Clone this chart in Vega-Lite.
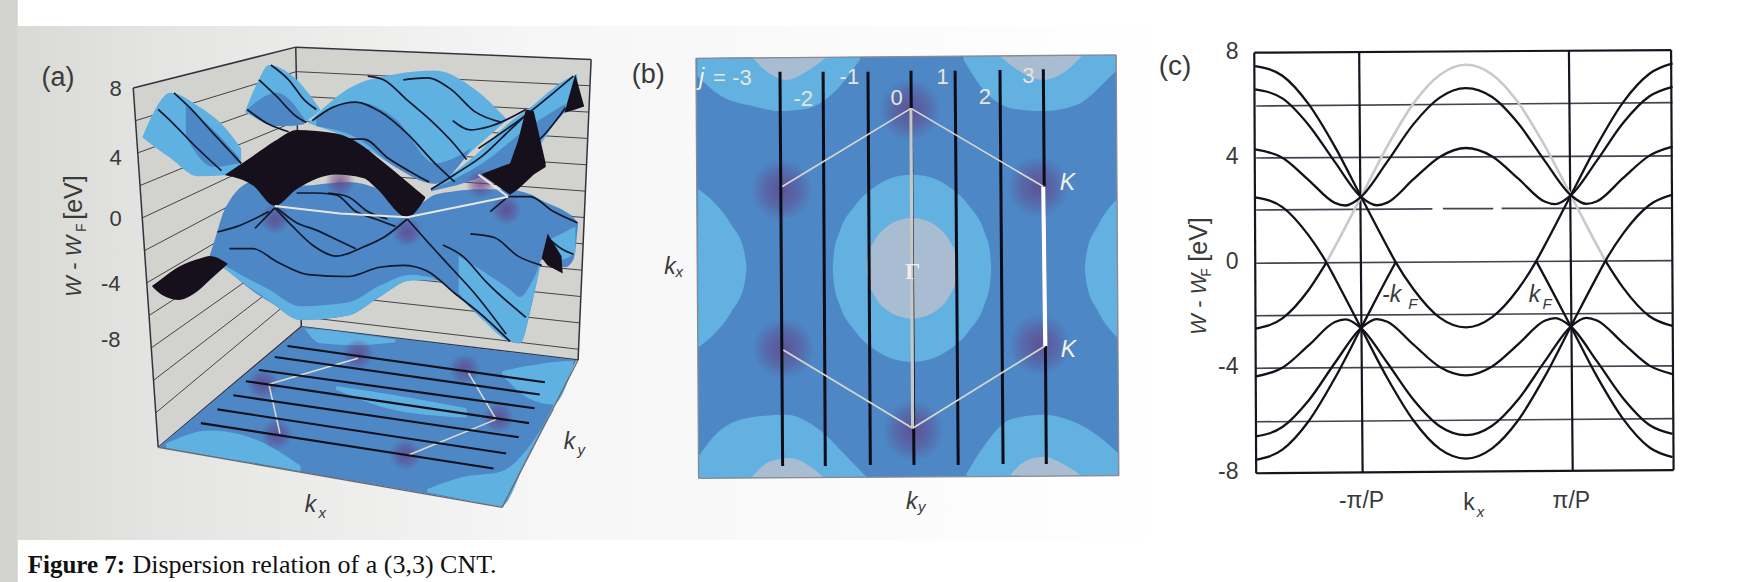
{
"$schema":"https://vega.github.io/schema/vega-lite/v6.json",
"width":1738,"height":582,"padding":0,"autosize":{"type":"none"},"background":"#ffffff",
"config":{"view":{"stroke":null}},
"resolve":{"scale":{"x":"independent","y":"independent"}},
"layer":[
{"encoding":{"x":{"field":"u","type":"quantitative","scale":{"domain":[0,4395.5],"nice":false,"zero":false},"axis":null},
 "y":{"field":"v","type":"quantitative","scale":{"domain":[1568,0],"nice":false,"zero":false},"axis":null}},
"layer":[
{"data":{"values":[{"u":0,"u2":45,"v":0,"v2":1568}]},"mark":{"type":"rect","color":"#d3d3cf"},"encoding":{"x2":{"field":"u2"},"y2":{"field":"v2"}}},
{"data":{"values":[{"u":45,"u2":2950,"v":70,"v2":1455}]},"mark":{"type":"rect","color":{"gradient":"linear","x1":0,"x2":1,"y1":0,"y2":0,"stops":[{"offset":0,"color":"#d9d9d6"},{"offset":0.12,"color":"#e4e4e2"},{"offset":0.45,"color":"#f6f6f6"},{"offset":1,"color":"#ffffff"}]}},"encoding":{"x2":{"field":"u2"},"y2":{"field":"v2"}}},
{"data":{"values":[{"u":337,"t":237,"b":237},{"u":400,"t":220,"b":1200},{"u":748,"t":127,"b":892},{"u":762,"t":128,"b":880},{"u":1462,"t":158,"b":970},{"u":1495,"t":160,"b":160}]},"mark":{"type":"area","color":"#d2d2ce"},"encoding":{"y":{"field":"t"},"y2":{"field":"b"}}},
{"data":{"values":[
{"id":"l1","u":343,"v":325},{"id":"l1","u":749,"v":193},{"id":"l2","u":348,"v":412},{"id":"l2","u":750,"v":259},{"id":"l3","u":354,"v":500},{"id":"l3","u":752,"v":325},{"id":"l4","u":360,"v":587},{"id":"l4","u":753,"v":391},{"id":"l5","u":366,"v":675},{"id":"l5","u":754,"v":457},{"id":"l6","u":371,"v":762},{"id":"l6","u":755,"v":523},{"id":"l7","u":377,"v":850},{"id":"l7","u":756,"v":589},{"id":"l8","u":383,"v":937},{"id":"l8","u":758,"v":655},{"id":"l9","u":388,"v":1025},{"id":"l9","u":759,"v":721},{"id":"l10","u":394,"v":1112},{"id":"l10","u":760,"v":787},
{"id":"r1","u":749,"v":193},{"id":"r1","u":1492,"v":231},{"id":"r2","u":750,"v":259},{"id":"r2","u":1489,"v":302},{"id":"r3","u":752,"v":325},{"id":"r3","u":1486,"v":373},{"id":"r4","u":753,"v":391},{"id":"r4","u":1483,"v":444},{"id":"r5","u":754,"v":457},{"id":"r5","u":1480,"v":515},{"id":"r6","u":755,"v":523},{"id":"r6","u":1478,"v":586},{"id":"r7","u":756,"v":589},{"id":"r7","u":1475,"v":657},{"id":"r8","u":758,"v":655},{"id":"r8","u":1472,"v":728},{"id":"r9","u":759,"v":721},{"id":"r9","u":1469,"v":799},{"id":"r10","u":760,"v":787},{"id":"r10","u":1466,"v":870},{"id":"r11","u":761,"v":853},{"id":"r11","u":1463,"v":941}
]},"mark":{"type":"line","color":"#444444","strokeWidth":1},"encoding":{"detail":{"field":"id"}}},
{"data":{"values":[
{"id":"a","u":337,"v":237},{"id":"a","u":748,"v":127},{"id":"b","u":748,"v":127},{"id":"b","u":1495,"v":160},{"id":"c","u":1462,"v":970},{"id":"c","u":1495,"v":160},{"id":"d","u":337,"v":237},{"id":"d","u":400,"v":1205},{"id":"e","u":400,"v":1205},{"id":"e","u":762,"v":880},{"id":"f","u":762,"v":880},{"id":"f","u":1462,"v":970},{"id":"g","u":748,"v":127},{"id":"g","u":762,"v":880}
]},"mark":{"type":"line","color":"#333340","strokeWidth":1.5},"encoding":{"detail":{"field":"id"}}},
{"data":{"values":[{"u":400,"t":1205,"b":1205},{"u":765,"t":880,"b":1272},{"u":1270,"t":946,"b":1365},{"u":1458,"t":970,"b":972}]},"mark":{"type":"area","color":"#4d87c5"},"encoding":{"y":{"field":"t"},"y2":{"field":"b"}}},
{"data":{"values":[
{"id":"f1","u":420,"t":1195,"b":1208},{"id":"f1","u":530,"t":1160,"b":1228},{"id":"f1","u":660,"t":1190,"b":1250},{"id":"f1","u":760,"t":1255,"b":1270},
{"id":"f2","u":770,"t":885,"b":885},{"id":"f2","u":810,"t":888,"b":925},{"id":"f2","u":900,"t":900,"b":930},{"id":"f2","u":1000,"t":915,"b":922},
{"id":"f3","u":1270,"t":1000,"b":1010},{"id":"f3","u":1340,"t":985,"b":1075},{"id":"f3","u":1400,"t":975,"b":1090},{"id":"f3","u":1450,"t":972,"b":985},
{"id":"f4","u":1080,"t":1318,"b":1326},{"id":"f4","u":1170,"t":1285,"b":1345},{"id":"f4","u":1268,"t":1270,"b":1363},{"id":"f4","u":1340,"t":1200,"b":1215},{"id":"f4","u":1400,"t":1100,"b":1105},
{"id":"f5","u":850,"t":1040,"b":1050},{"id":"f5","u":1000,"t":1065,"b":1105},{"id":"f5","u":1180,"t":1100,"b":1125}
]},"mark":{"type":"area","color":"#5fb1e1","interpolate":"monotone"},"encoding":{"detail":{"field":"id"},"y":{"field":"t"},"y2":{"field":"b"}}},
{"data":{"values":[{"u":905,"v":955},{"u":1175,"v":995},{"u":1260,"v":1125},{"u":1025,"v":1225},{"u":700,"v":1170},{"u":665,"v":1035}]},"mark":{"type":"circle","size":1000,"fill":{"gradient":"radial","stops":[{"offset":0,"color":"rgba(100,60,130,0.7)"},{"offset":0.55,"color":"rgba(100,60,130,0.4)"},{"offset":1,"color":"rgba(100,60,130,0)"}]},"opacity":1}},
{"data":{"values":[
{"id":"h1","u":680,"v":1035},{"id":"h1","u":905,"v":965},{"id":"h2","u":680,"v":1035},{"id":"h2","u":708,"v":1168},{"id":"h3","u":1185,"v":1005},{"id":"h3","u":1255,"v":1130},{"id":"h4","u":1035,"v":1225},{"id":"h4","u":1255,"v":1130}
]},"mark":{"type":"line","color":"#dcdcd4","strokeWidth":1.5},"encoding":{"detail":{"field":"id"}}},
{"data":{"values":[
{"id":"1","u":727,"v":932},{"id":"1","u":1378,"v":1030},{"id":"2","u":695,"v":962},{"id":"2","u":1365,"v":1063},{"id":"3","u":655,"v":997},{"id":"3","u":1352,"v":1100},{"id":"4","u":622,"v":1027},{"id":"4","u":1338,"v":1140},{"id":"5","u":590,"v":1065},{"id":"5","u":1312,"v":1178},{"id":"6","u":550,"v":1103},{"id":"6","u":1280,"v":1222},{"id":"7","u":508,"v":1140},{"id":"7","u":1248,"v":1262}
]},"mark":{"type":"line","color":"#10101c","strokeWidth":2.1},"encoding":{"detail":{"field":"id"}}},
{"data":{"values":[{"id":"a","u":400,"v":1205},{"id":"a","u":1270,"v":1367},{"id":"b","u":1270,"v":1367},{"id":"b","u":1462,"v":970}]},"mark":{"type":"line","color":"#6a6a70","strokeWidth":1.4},"encoding":{"detail":{"field":"id"}}},
{"data":{"values":[
{"id":"u1","u":360,"t":370,"b":370},{"id":"u1","u":390,"t":300,"b":395},{"id":"u1","u":430,"t":250,"b":425},{"id":"u1","u":500,"t":285,"b":475},{"id":"u1","u":570,"t":345,"b":472},{"id":"u1","u":610,"t":400,"b":440},
{"id":"u2","u":620,"t":300,"b":302},{"id":"u2","u":650,"t":225,"b":320},{"id":"u2","u":680,"t":175,"b":335},{"id":"u2","u":740,"t":205,"b":340},{"id":"u2","u":810,"t":295,"b":298},
{"id":"u3","u":780,"t":330,"b":332},{"id":"u3","u":830,"t":280,"b":350},{"id":"u3","u":880,"t":240,"b":370},{"id":"u3","u":1000,"t":200,"b":450},{"id":"u3","u":1100,"t":190,"b":495},{"id":"u3","u":1200,"t":240,"b":400},{"id":"u3","u":1280,"t":320,"b":325},
{"id":"u4","u":1090,"t":510,"b":515},{"id":"u4","u":1200,"t":420,"b":480},{"id":"u4","u":1300,"t":320,"b":470},{"id":"u4","u":1340,"t":290,"b":430},{"id":"u4","u":1430,"t":215,"b":300},{"id":"u4","u":1460,"t":200,"b":285}
]},"mark":{"type":"area","color":"#5fb1e1","interpolate":"monotone"},"encoding":{"detail":{"field":"id"},"y":{"field":"t"},"y2":{"field":"b"}}},
{"data":{"values":[
{"id":"d1","u":470,"t":285,"b":370},{"id":"d1","u":540,"t":350,"b":450},{"id":"d1","u":605,"t":425,"b":440},
{"id":"d2","u":625,"t":295,"b":300},{"id":"d2","u":700,"t":250,"b":340},{"id":"d2","u":770,"t":320,"b":335},
{"id":"d3","u":800,"t":320,"b":340},{"id":"d3","u":900,"t":275,"b":370},{"id":"d3","u":1000,"t":320,"b":450},{"id":"d3","u":1100,"t":440,"b":495},{"id":"d3","u":1190,"t":400,"b":402},
{"id":"d4","u":1090,"t":512,"b":515},{"id":"d4","u":1220,"t":440,"b":475},{"id":"d4","u":1340,"t":340,"b":400},{"id":"d4","u":1430,"t":280,"b":300},
{"id":"L","u":530,"t":690,"b":690},{"id":"L","u":545,"t":640,"b":705},{"id":"L","u":570,"t":560,"b":725},{"id":"L","u":640,"t":490,"b":785},{"id":"L","u":700,"t":495,"b":825},{"id":"L","u":760,"t":500,"b":862},{"id":"L","u":880,"t":490,"b":850},{"id":"L","u":960,"t":510,"b":800},{"id":"L","u":1040,"t":560,"b":755},{"id":"L","u":1100,"t":525,"b":755},{"id":"L","u":1150,"t":515,"b":790},{"id":"L","u":1220,"t":510,"b":860},{"id":"L","u":1290,"t":510,"b":920},{"id":"L","u":1315,"t":515,"b":925},{"id":"L","u":1345,"t":525,"b":820},{"id":"L","u":1370,"t":540,"b":700},{"id":"L","u":1430,"t":570,"b":720},{"id":"L","u":1450,"t":585,"b":700},{"id":"L","u":1462,"t":600,"b":602}
]},"mark":{"type":"area","color":"#4d87c5","interpolate":"monotone"},"encoding":{"detail":{"field":"id"},"y":{"field":"t"},"y2":{"field":"b"}}},
{"data":{"values":[
{"id":"l1","u":530,"t":690,"b":690},{"id":"l1","u":600,"t":735,"b":750},{"id":"l1","u":680,"t":780,"b":810},{"id":"l1","u":760,"t":825,"b":862},{"id":"l1","u":880,"t":815,"b":850},{"id":"l1","u":960,"t":770,"b":800},{"id":"l1","u":1040,"t":740,"b":755},{"id":"l1","u":1100,"t":750,"b":755},
{"id":"l2","u":1160,"t":690,"b":790},{"id":"l2","u":1220,"t":730,"b":860},{"id":"l2","u":1290,"t":780,"b":920},{"id":"l2","u":1315,"t":800,"b":925},{"id":"l2","u":1345,"t":760,"b":820},{"id":"l2","u":1370,"t":700,"b":700},
{"id":"l3","u":1380,"t":650,"b":655},{"id":"l3","u":1420,"t":630,"b":700},{"id":"l3","u":1455,"t":610,"b":680}
]},"mark":{"type":"area","color":"#5fb1e1","interpolate":"monotone"},"encoding":{"detail":{"field":"id"},"y":{"field":"t"},"y2":{"field":"b"}}},
{"data":{"values":[{"u":695,"v":590},{"u":1030,"v":625},{"u":1280,"v":565},{"u":1215,"v":495},{"u":860,"v":490}]},"mark":{"type":"circle","size":900,"fill":{"gradient":"radial","stops":[{"offset":0,"color":"rgba(100,60,130,0.7)"},{"offset":0.55,"color":"rgba(100,60,130,0.4)"},{"offset":1,"color":"rgba(100,60,130,0)"}]},"opacity":1}},
{"data":{"values":[
{"id":"a","u":440,"v":250},{"id":"a","u":480,"v":290},{"id":"a","u":540,"v":360},{"id":"a","u":610,"v":440},
{"id":"b","u":400,"v":295},{"id":"b","u":440,"v":335},{"id":"b","u":490,"v":390},{"id":"b","u":560,"v":460},
{"id":"c","u":685,"v":175},{"id":"c","u":730,"v":215},{"id":"c","u":770,"v":270},{"id":"c","u":800,"v":295},
{"id":"d","u":655,"v":215},{"id":"d","u":700,"v":260},{"id":"d","u":745,"v":310},{"id":"d","u":775,"v":330},
{"id":"e","u":625,"v":295},{"id":"e","u":680,"v":335},{"id":"e","u":730,"v":355},
{"id":"f","u":790,"v":325},{"id":"f","u":840,"v":290},{"id":"f","u":900,"v":275},{"id":"f","u":960,"v":300},{"id":"f","u":1030,"v":360},{"id":"f","u":1100,"v":440},{"id":"f","u":1150,"v":490},
{"id":"g","u":930,"v":205},{"id":"g","u":970,"v":215},{"id":"g","u":1030,"v":270},{"id":"g","u":1090,"v":325},{"id":"g","u":1150,"v":390},{"id":"g","u":1180,"v":430},
{"id":"h","u":1020,"v":215},{"id":"h","u":1080,"v":210},{"id":"h","u":1140,"v":240},{"id":"h","u":1200,"v":300},{"id":"h","u":1270,"v":330},
{"id":"i","u":875,"v":375},{"id":"i","u":920,"v":375},{"id":"i","u":980,"v":425},{"id":"i","u":1050,"v":470},{"id":"i","u":1085,"v":490},
{"id":"j","u":1145,"v":325},{"id":"j","u":1190,"v":350},{"id":"j","u":1240,"v":340},{"id":"j","u":1330,"v":295},
{"id":"k","u":1090,"v":510},{"id":"k","u":1150,"v":470},{"id":"k","u":1220,"v":420},{"id":"k","u":1290,"v":350},{"id":"k","u":1340,"v":300},
{"id":"m","u":1300,"v":420},{"id":"m","u":1370,"v":370},{"id":"m","u":1430,"v":290},
{"id":"n","u":1210,"v":400},{"id":"n","u":1330,"v":310},{"id":"n","u":1450,"v":205},
{"id":"o","u":550,"v":625},{"id":"o","u":600,"v":610},{"id":"o","u":680,"v":570},
{"id":"p","u":645,"v":615},{"id":"p","u":695,"v":560},
{"id":"q","u":695,"v":560},{"id":"q","u":740,"v":610},{"id":"q","u":790,"v":660},{"id":"q","u":850,"v":690},{"id":"q","u":920,"v":665},{"id":"q","u":970,"v":640},{"id":"q","u":1030,"v":590},
{"id":"r","u":700,"v":560},{"id":"r","u":750,"v":600},{"id":"r","u":800,"v":620},{"id":"r","u":860,"v":650},{"id":"r","u":900,"v":670},
{"id":"s","u":750,"v":520},{"id":"s","u":800,"v":520},{"id":"s","u":850,"v":525},{"id":"s","u":900,"v":570},{"id":"s","u":950,"v":590},{"id":"s","u":1000,"v":610},
{"id":"t","u":830,"v":520},{"id":"t","u":880,"v":530},{"id":"t","u":930,"v":570},{"id":"t","u":980,"v":590},
{"id":"uu","u":580,"v":670},{"id":"uu","u":640,"v":670},{"id":"uu","u":700,"v":705},{"id":"uu","u":780,"v":740},{"id":"uu","u":880,"v":745},{"id":"uu","u":960,"v":720},{"id":"uu","u":1020,"v":715},{"id":"uu","u":1080,"v":730},{"id":"uu","u":1150,"v":790},{"id":"uu","u":1220,"v":850},{"id":"uu","u":1290,"v":920},
{"id":"vv","u":1030,"v":590},{"id":"vv","u":1080,"v":650},{"id":"vv","u":1140,"v":720},{"id":"vv","u":1200,"v":790},{"id":"vv","u":1280,"v":900},
{"id":"w","u":1120,"v":660},{"id":"w","u":1170,"v":690},{"id":"w","u":1230,"v":760},{"id":"w","u":1330,"v":855},
{"id":"x","u":1190,"v":630},{"id":"x","u":1250,"v":640},{"id":"x","u":1310,"v":690},{"id":"x","u":1370,"v":715},
{"id":"y","u":1285,"v":530},{"id":"y","u":1340,"v":530},{"id":"y","u":1400,"v":570},{"id":"y","u":1460,"v":600},
{"id":"z","u":1385,"v":640},{"id":"z","u":1420,"v":670},{"id":"z","u":1450,"v":685},
{"id":"aa","u":1240,"v":570},{"id":"aa","u":1285,"v":530}
]},"mark":{"type":"line","color":"#10182c","strokeWidth":1.7,"interpolate":"monotone"},"encoding":{"detail":{"field":"id"}}},
{"data":{"values":[
{"id":"arch","u":570,"t":470,"b":472},{"id":"arch","u":640,"t":420,"b":500},{"id":"arch","u":695,"t":380,"b":555},{"id":"arch","u":750,"t":350,"b":510},{"id":"arch","u":850,"t":360,"b":470},{"id":"arch","u":920,"t":395,"b":480},{"id":"arch","u":950,"t":420,"b":505},{"id":"arch","u":1030,"t":490,"b":585},{"id":"arch","u":1075,"t":530,"b":535}
]},"mark":{"type":"area","color":"#15101c","interpolate":"monotone"},"encoding":{"detail":{"field":"id"},"y":{"field":"t"},"y2":{"field":"b"}}},
{"data":{"values":[
{"id":"ll","u":385,"t":770,"b":772},{"id":"ll","u":410,"t":750,"b":795},{"id":"ll","u":450,"t":720,"b":808},{"id":"ll","u":510,"t":695,"b":775},{"id":"ll","u":530,"t":690,"b":755},{"id":"ll","u":575,"t":710,"b":712}
]},"mark":{"type":"area","color":"#15101c","interpolate":"monotone"},"encoding":{"detail":{"field":"id"},"y":{"field":"t"},"y2":{"field":"b"}}},
{"data":{"values":[
{"id":"rb","u":1220,"t":468,"b":472},{"id":"rb","u":1290,"t":440,"b":525},{"id":"rb","u":1310,"t":380,"b":510},{"id":"rb","u":1330,"t":295,"b":490},{"id":"rb","u":1350,"t":300,"b":470},{"id":"rb","u":1380,"t":440,"b":450},
{"id":"tip","u":1428,"t":302,"b":304},{"id":"tip","u":1455,"t":200,"b":295},{"id":"tip","u":1477,"t":285,"b":287},
{"id":"lr","u":1370,"t":695,"b":695},{"id":"lr","u":1385,"t":630,"b":715},{"id":"lr","u":1420,"t":690,"b":735},{"id":"lr","u":1423,"t":735,"b":737}
]},"mark":{"type":"area","color":"#15101c"},"encoding":{"detail":{"field":"id"},"y":{"field":"t"},"y2":{"field":"b"}}},
{"data":{"values":[
{"id":"w1","u":695,"v":555},{"id":"w1","u":860,"v":575},{"id":"w1","u":1030,"v":585},{"id":"w1","u":1285,"v":530},{"id":"w2","u":1210,"v":470},{"id":"w2","u":1285,"v":530}
]},"mark":{"type":"line","color":"#e8e8e0","strokeWidth":2},"encoding":{"detail":{"field":"id"}}},
{"data":{"values":[{"u":105,"v":210,"label":"(a)"}]},"mark":{"type":"text","font":"Liberation Sans","fontSize":27,"color":"#3a3a3a","align":"left","baseline":"middle"},"encoding":{"text":{"field":"label"}}},
{"data":{"values":[{"u":308,"v":240,"label":"8"},{"u":308,"v":425,"label":"4"},{"u":308,"v":590,"label":"0"},{"u":305,"v":765,"label":"-4"},{"u":305,"v":915,"label":"-8"}]},"mark":{"type":"text","font":"Liberation Sans","fontSize":22,"color":"#3a3a3a","align":"right","baseline":"middle"},"encoding":{"text":{"field":"label"}}},
{"data":{"values":[{"u":187,"v":800,"label":"W - W"}]},"mark":{"type":"text","font":"Liberation Sans","fontStyle":"italic","fontSize":22,"color":"#3a3a3a","align":"left","baseline":"middle","angle":270},"encoding":{"text":{"field":"label"}}},
{"data":{"values":[{"u":208,"v":625,"label":"F"}]},"mark":{"type":"text","font":"Liberation Sans","fontSize":14,"color":"#3a3a3a","align":"left","baseline":"middle","angle":270},"encoding":{"text":{"field":"label"}}},
{"data":{"values":[{"u":187,"v":592,"label":"[eV]"}]},"mark":{"type":"text","font":"Liberation Sans","fontSize":25,"color":"#3a3a3a","align":"left","baseline":"middle","angle":270},"encoding":{"text":{"field":"label"}}},
{"data":{"values":[{"u":785,"v":1360,"label":"k"},{"u":1440,"v":1190,"label":"k"}]},"mark":{"type":"text","font":"Liberation Sans","fontStyle":"italic","fontSize":23,"color":"#3a3a3a","baseline":"middle"},"encoding":{"text":{"field":"label"}}},
{"data":{"values":[{"u":815,"v":1382,"label":"x"},{"u":1470,"v":1212,"label":"y"}]},"mark":{"type":"text","font":"Liberation Sans","fontStyle":"italic","fontSize":15,"color":"#3a3a3a","baseline":"middle"},"encoding":{"text":{"field":"label"}}},
{"data":{"values":[{"u":70,"v":1522,"label":"Figure 7:"}]},"mark":{"type":"text","font":"Liberation Serif","fontWeight":"bold","fontSize":25,"color":"#111111","align":"left","baseline":"middle"},"encoding":{"text":{"field":"label"}}},
{"data":{"values":[{"u":335,"v":1522,"label":"Dispersion relation of a (3,3) CNT."}]},"mark":{"type":"text","font":"Liberation Serif","fontSize":26,"color":"#111111","align":"left","baseline":"middle"},"encoding":{"text":{"field":"label"}}}
]},
{"encoding":{"x":{"field":"ky","type":"quantitative","scale":{"domain":[-20.727,18.773],"nice":false,"zero":false},"axis":null},
 "y":{"field":"kx","type":"quantitative","scale":{"domain":[-2.614,2.236],"nice":false,"zero":false},"axis":null}},
"layer":[
{"data":{"values":[{"ky":-4.91,"t":1.75,"b":1.75},{"ky":-4.85,"t":1.752,"b":-1.75},{"ky":4.64,"t":1.778,"b":-1.728},{"ky":4.70,"t":-1.726,"b":-1.728}]},"mark":{"type":"area","color":"#4d87c5"},"encoding":{"y":{"field":"t"},"y2":{"field":"b"}}},
{"data":{"values":[
{"id":"c","ky":-1.8,"t":0.02,"b":-0.02},{"id":"c","ky":-1.77,"t":0.14,"b":-0.14},{"id":"c","ky":-1.65,"t":0.3,"b":-0.3},{"id":"c","ky":-1.3,"t":0.52,"b":-0.52},{"id":"c","ky":-0.8,"t":0.69,"b":-0.69},{"id":"c","ky":-0.4,"t":0.76,"b":-0.76},{"id":"c","ky":0,"t":0.78,"b":-0.78},{"id":"c","ky":0.4,"t":0.76,"b":-0.76},{"id":"c","ky":0.8,"t":0.69,"b":-0.69},{"id":"c","ky":1.3,"t":0.52,"b":-0.52},{"id":"c","ky":1.65,"t":0.3,"b":-0.3},{"id":"c","ky":1.77,"t":0.14,"b":-0.14},{"id":"c","ky":1.8,"t":0.02,"b":-0.02},
{"id":"l","ky":-4.86,"t":0.66,"b":-0.66},{"id":"l","ky":-4.5,"t":0.55,"b":-0.55},{"id":"l","ky":-4.1,"t":0.36,"b":-0.36},{"id":"l","ky":-3.82,"t":0.15,"b":-0.15},{"id":"l","ky":-3.76,"t":0.02,"b":-0.02},
{"id":"r","ky":3.93,"t":0.02,"b":-0.02},{"id":"r","ky":3.98,"t":0.15,"b":-0.15},{"id":"r","ky":4.2,"t":0.34,"b":-0.34},{"id":"r","ky":4.67,"t":0.58,"b":-0.58},
{"id":"tl","ky":-4.88,"t":1.75,"b":1.6},{"id":"tl","ky":-4.36,"t":1.755,"b":1.44},{"id":"tl","ky":-3.61,"t":1.76,"b":1.35},{"id":"tl","ky":-3.0,"t":1.76,"b":1.31},{"id":"tl","ky":-2.39,"t":1.76,"b":1.33},{"id":"tl","ky":-1.71,"t":1.76,"b":1.49},{"id":"tl","ky":-1.18,"t":1.76,"b":1.74},
{"id":"tr","ky":1.17,"t":1.77,"b":1.74},{"id":"tr","ky":1.62,"t":1.77,"b":1.49},{"id":"tr","ky":2.3,"t":1.77,"b":1.33},{"id":"tr","ky":2.98,"t":1.775,"b":1.31},{"id":"tr","ky":3.74,"t":1.775,"b":1.36},{"id":"tr","ky":4.35,"t":1.775,"b":1.54},{"id":"tr","ky":4.65,"t":1.775,"b":1.65},
{"id":"bl","ky":-4.84,"t":-1.56,"b":-1.75},{"id":"bl","ky":-4.36,"t":-1.35,"b":-1.745},{"id":"bl","ky":-3.61,"t":-1.24,"b":-1.745},{"id":"bl","ky":-2.85,"t":-1.22,"b":-1.74},{"id":"bl","ky":-2.09,"t":-1.35,"b":-1.74},{"id":"bl","ky":-1.48,"t":-1.57,"b":-1.74},{"id":"bl","ky":-1.03,"t":-1.74,"b":-1.74},
{"id":"br","ky":1.24,"t":-1.71,"b":-1.735},{"id":"br","ky":1.62,"t":-1.49,"b":-1.735},{"id":"br","ky":2.23,"t":-1.26,"b":-1.73},{"id":"br","ky":2.98,"t":-1.22,"b":-1.73},{"id":"br","ky":3.74,"t":-1.29,"b":-1.73},{"id":"br","ky":4.35,"t":-1.43,"b":-1.73},{"id":"br","ky":4.68,"t":-1.54,"b":-1.73}
]},"mark":{"type":"area","color":"#62b1e0","interpolate":"monotone"},"encoding":{"detail":{"field":"id"},"y":{"field":"t"},"y2":{"field":"b"}}},
{"data":{"values":[
{"id":"c","ky":-1.03,"t":0.02,"b":-0.02},{"id":"c","ky":-1.0,"t":0.1,"b":-0.1},{"id":"c","ky":-0.85,"t":0.23,"b":-0.23},{"id":"c","ky":-0.6,"t":0.34,"b":-0.34},{"id":"c","ky":-0.3,"t":0.4,"b":-0.4},{"id":"c","ky":0,"t":0.42,"b":-0.42},{"id":"c","ky":0.3,"t":0.4,"b":-0.4},{"id":"c","ky":0.6,"t":0.34,"b":-0.34},{"id":"c","ky":0.85,"t":0.23,"b":-0.23},{"id":"c","ky":1.0,"t":0.1,"b":-0.1},{"id":"c","ky":1.03,"t":0.02,"b":-0.02},
{"id":"tl","ky":-3.64,"t":1.76,"b":1.76},{"id":"tl","ky":-3.3,"t":1.76,"b":1.64},{"id":"tl","ky":-2.85,"t":1.76,"b":1.57},{"id":"tl","ky":-2.39,"t":1.76,"b":1.64},{"id":"tl","ky":-1.94,"t":1.76,"b":1.76},
{"id":"tr","ky":2.0,"t":1.77,"b":1.77},{"id":"tr","ky":2.45,"t":1.77,"b":1.64},{"id":"tr","ky":2.98,"t":1.775,"b":1.57},{"id":"tr","ky":3.52,"t":1.775,"b":1.65},{"id":"tr","ky":3.86,"t":1.775,"b":1.77},
{"id":"bl","ky":-3.64,"t":-1.74,"b":-1.74},{"id":"bl","ky":-3.23,"t":-1.61,"b":-1.745},{"id":"bl","ky":-2.77,"t":-1.58,"b":-1.74},{"id":"bl","ky":-2.32,"t":-1.65,"b":-1.74},{"id":"bl","ky":-2.02,"t":-1.74,"b":-1.74},
{"id":"br","ky":2.23,"t":-1.72,"b":-1.72},{"id":"br","ky":2.61,"t":-1.6,"b":-1.73},{"id":"br","ky":2.98,"t":-1.57,"b":-1.73},{"id":"br","ky":3.44,"t":-1.63,"b":-1.73},{"id":"br","ky":3.82,"t":-1.72,"b":-1.72}
]},"mark":{"type":"area","color":"#a8bcd2","interpolate":"monotone"},"encoding":{"detail":{"field":"id"},"y":{"field":"t"},"y2":{"field":"b"}}},
{"data":{"values":[{"ky":-2.96,"kx":0.653},{"ky":-2.92,"kx":-0.667},{"ky":2.87,"kx":0.681},{"ky":2.91,"kx":-0.636},{"ky":-0.045,"kx":1.32},{"ky":0.03,"kx":-1.353}]},"mark":{"type":"circle","size":3800,"fill":{"gradient":"radial","stops":[{"offset":0,"color":"rgba(100,60,130,0.7)"},{"offset":0.55,"color":"rgba(100,60,130,0.4)"},{"offset":1,"color":"rgba(100,60,130,0)"}]},"opacity":1}},
{"data":{"values":[
{"id":"a","ky":-3.0,"kx":1.639},{"id":"a","ky":-2.94,"kx":-1.647},{"id":"b","ky":-2.02,"kx":1.639},{"id":"b","ky":-1.97,"kx":-1.647},{"id":"c","ky":-1.0,"kx":1.639},{"id":"c","ky":-0.947,"kx":-1.639},{"id":"d","ky":-0.023,"kx":1.647},{"id":"d","ky":0.045,"kx":-1.639},{"id":"e","ky":0.98,"kx":1.647},{"id":"e","ky":1.05,"kx":-1.639},{"id":"f","ky":2.0,"kx":1.653},{"id":"f","ky":2.07,"kx":-1.631},{"id":"g","ky":2.985,"kx":1.658},{"id":"g","ky":3.053,"kx":-1.631}
]},"mark":{"type":"line","color":"#0d0d1a","strokeWidth":3},"encoding":{"detail":{"field":"id"}}},
{"data":{"values":[
{"id":"h1","ky":-2.947,"kx":0.681},{"id":"h1","ky":-0.023,"kx":1.333},{"id":"h2","ky":-0.023,"kx":1.333},{"id":"h2","ky":2.985,"kx":0.681},{"id":"h3","ky":-2.924,"kx":-0.681},{"id":"h3","ky":0.015,"kx":-1.333},{"id":"h4","ky":0.015,"kx":-1.333},{"id":"h4","ky":3.023,"kx":-0.647}
]},"mark":{"type":"line","color":"#d8d8d0","strokeWidth":1.7},"encoding":{"detail":{"field":"id"}}},
{"data":{"values":[{"ky":-0.023,"kx":1.333},{"ky":0.015,"kx":-1.333}]},"mark":{"type":"line","color":"#c8c8c4","strokeWidth":3.2},"encoding":{}},
{"data":{"values":[{"ky":2.985,"kx":0.681},{"ky":3.03,"kx":-0.647}]},"mark":{"type":"line","color":"#ffffff","strokeWidth":4.2},"encoding":{}},
{"data":{"values":[{"id":"a","ky":-4.91,"kx":1.75},{"id":"a","ky":4.64,"kx":1.778},{"id":"b","ky":4.64,"kx":1.778},{"id":"b","ky":4.70,"kx":-1.728},{"id":"c","ky":-4.85,"kx":-1.75},{"id":"c","ky":4.70,"kx":-1.728},{"id":"d","ky":-4.91,"kx":1.75},{"id":"d","ky":-4.85,"kx":-1.75}]},"mark":{"type":"line","color":"#8a8a92","strokeWidth":1.3},"encoding":{"detail":{"field":"id"}}},
{"data":{"values":[{"ky":-2.47,"kx":1.408,"label":"-2"},{"ky":-1.424,"kx":1.592,"label":"-1"},{"ky":-0.348,"kx":1.417,"label":"0"},{"ky":0.697,"kx":1.597,"label":"1"},{"ky":1.659,"kx":1.425,"label":"2"},{"ky":2.644,"kx":1.603,"label":"3"}]},"mark":{"type":"text","font":"Liberation Sans","fontSize":22,"color":"#e6e6dc","baseline":"middle"},"encoding":{"text":{"field":"label"}}},
{"data":{"values":[{"ky":-4.52,"kx":1.583,"label":"= -3"}]},"mark":{"type":"text","font":"Liberation Sans","fontSize":22,"color":"#e6e6dc","baseline":"middle","align":"left"},"encoding":{"text":{"field":"label"}}},
{"data":{"values":[{"ky":-4.78,"kx":1.583,"label":"j"},{"ky":3.53,"kx":0.708,"label":"K"},{"ky":3.553,"kx":-0.681,"label":"K"}]},"mark":{"type":"text","font":"Liberation Sans","fontStyle":"italic","fontSize":23,"color":"#f2f2ea","baseline":"middle"},"encoding":{"text":{"field":"label"}}},
{"data":{"values":[{"ky":0.015,"kx":-0.033,"label":"Γ"}]},"mark":{"type":"text","font":"Liberation Serif","fontWeight":"bold","fontSize":24,"color":"#eeeeee","baseline":"middle"},"encoding":{"text":{"field":"label"}}},
{"data":{"values":[{"ky":-6.37,"kx":1.611,"label":"(b)"}]},"mark":{"type":"text","font":"Liberation Sans","fontSize":27,"color":"#3a3a3a","baseline":"middle","align":"left"},"encoding":{"text":{"field":"label"}}},
{"data":{"values":[{"ky":-5.5,"kx":0.014,"label":"k"},{"ky":-0.008,"kx":-1.944,"label":"k"}]},"mark":{"type":"text","font":"Liberation Sans","fontStyle":"italic","fontSize":23,"color":"#3a3a3a","baseline":"middle"},"encoding":{"text":{"field":"label"}}},
{"data":{"values":[{"ky":-5.288,"kx":-0.028,"label":"x"},{"ky":0.22,"kx":-1.986,"label":"y"}]},"mark":{"type":"text","font":"Liberation Sans","fontStyle":"italic","fontSize":15,"color":"#3a3a3a","baseline":"middle"},"encoding":{"text":{"field":"label"}}}
]},
{"encoding":{"x":{"field":"k","type":"quantitative","title":null,"scale":{"domain":[-13.977,2.594],"nice":false,"zero":false},
  "axis":{"orient":"bottom","offset":-110,"values":[-1,1],"labelExpr":"datum.value<0?'-π/P':'π/P'","grid":false,"domain":false,"ticks":false,"labelFont":"Liberation Sans","labelFontSize":23,"labelColor":"#3a3a3a","labelPadding":17,"labelOverlap":false,"title":null}},
 "y":{"field":"E","type":"quantitative","title":null,"scale":{"domain":[-12.203,9.968],"nice":false,"zero":false},
  "axis":{"orient":"left","offset":-1254,"values":[-8,-4,0,4,8],"labelExpr":"''+datum.value","grid":false,"domain":false,"ticks":false,"labelFont":"Liberation Sans","labelFontSize":23,"labelColor":"#3a3a3a","labelPadding":16,"labelOverlap":false,"title":null}}},
"layer":[
{"data":{"values":[
{"id":"g6","k":-2,"E":5.93},{"id":"g6","k":1.97,"E":6.06},{"id":"g4","k":-2,"E":3.95},{"id":"g4","k":1.97,"E":4.03},
{"id":"g2a","k":-2,"E":1.97},{"id":"g2a","k":-0.32,"E":2.01},{"id":"g2b","k":-0.22,"E":2.02},{"id":"g2b","k":0.26,"E":2.02},{"id":"g2c","k":0.34,"E":2.03},{"id":"g2c","k":1.97,"E":2.04},
{"id":"g0","k":-2,"E":-0.06},{"id":"g0","k":1.97,"E":0.04},{"id":"gm2","k":-2,"E":-2.06},{"id":"gm2","k":1.97,"E":-1.96},{"id":"gm4","k":-2,"E":-4.06},{"id":"gm4","k":1.97,"E":-3.97},{"id":"gm6","k":-2,"E":-6.1},{"id":"gm6","k":1.97,"E":-5.98}
]},"mark":{"type":"line","color":"#444450","strokeWidth":1.6},"encoding":{"detail":{"field":"id"}}},
{"data":{"values":[
{"id":"a","k":-1.018,"E":7.99},{"id":"a","k":-0.985,"E":-8.03},{"id":"b","k":0.982,"E":8.03},{"id":"b","k":1.018,"E":-7.97},
{"id":"t","k":-2.018,"E":7.96},{"id":"t","k":1.956,"E":8.06},{"id":"r","k":1.956,"E":8.06},{"id":"r","k":1.98,"E":-7.94},{"id":"bt","k":-2.0,"E":-8.06},{"id":"bt","k":1.98,"E":-7.94},{"id":"l","k":-2.018,"E":7.96},{"id":"l","k":-2.0,"E":-8.06}
]},"mark":{"type":"line","color":"#15151f","strokeWidth":2.2},"encoding":{"detail":{"field":"id"}}},
{"data":{"values":[{"k":-1.33,"E":-0.03},{"k":-1.25,"E":0.56},{"k":-1,"E":2.47},{"k":-0.75,"E":4.39},{"k":-0.5,"E":6.03},{"k":-0.25,"E":7.11},{"k":0,"E":7.5},{"k":0.25,"E":7.13},{"k":0.5,"E":6.05},{"k":0.75,"E":4.43},{"k":1,"E":2.53},{"k":1.25,"E":0.62},{"k":1.33,"E":0.03}]},"mark":{"type":"line","color":"#c9c9c9","strokeWidth":2.6,"interpolate":"monotone"},"encoding":{}},
{"data":{"values":[
{"b":"U1l","k":-2.01,"E":-2.55},{"b":"U1l","k":-1.75,"E":-2.16},{"b":"U1l","k":-1.5,"E":-1.08},{"b":"U1l","k":-1.33,"E":-0.03},
{"b":"U1r","k":1.33,"E":0.03},{"b":"U1r","k":1.5,"E":-1.0},{"b":"U1r","k":1.75,"E":-2.08},{"b":"U1r","k":1.97,"E":-2.45},
{"b":"U2","k":-2.01,"E":7.45},{"b":"U2","k":-1.75,"E":7.08},{"b":"U2","k":-1.5,"E":6.0},{"b":"U2","k":-1.25,"E":4.38},{"b":"U2","k":-1,"E":2.47},{"b":"U2","k":-0.75,"E":0.57},{"b":"U2","k":-0.67,"E":-0.02},{"b":"U2","k":-0.5,"E":-1.05},{"b":"U2","k":-0.25,"E":-2.13},{"b":"U2","k":0,"E":-2.5},{"b":"U2","k":0.25,"E":-2.11},{"b":"U2","k":0.5,"E":-1.03},{"b":"U2","k":0.67,"E":0.02},{"b":"U2","k":0.75,"E":0.61},{"b":"U2","k":1,"E":2.53},{"b":"U2","k":1.25,"E":4.44},{"b":"U2","k":1.5,"E":6.08},{"b":"U2","k":1.75,"E":7.16},{"b":"U2","k":1.97,"E":7.55},
{"b":"L1","k":-2.01,"E":2.45},{"b":"L1","k":-1.75,"E":2.08},{"b":"L1","k":-1.5,"E":1.0},{"b":"L1","k":-1.33,"E":-0.03},{"b":"L1","k":-1.25,"E":-0.62},{"b":"L1","k":-1,"E":-2.53},{"b":"L1","k":-0.75,"E":-4.43},{"b":"L1","k":-0.5,"E":-6.05},{"b":"L1","k":-0.25,"E":-7.13},{"b":"L1","k":0,"E":-7.5},{"b":"L1","k":0.25,"E":-7.11},{"b":"L1","k":0.5,"E":-6.03},{"b":"L1","k":0.75,"E":-4.39},{"b":"L1","k":1,"E":-2.47},{"b":"L1","k":1.25,"E":-0.56},{"b":"L1","k":1.33,"E":0.03},{"b":"L1","k":1.5,"E":1.08},{"b":"L1","k":1.75,"E":2.16},{"b":"L1","k":1.97,"E":2.55},
{"b":"L2l","k":-2.01,"E":-7.55},{"b":"L2l","k":-1.75,"E":-7.16},{"b":"L2l","k":-1.5,"E":-6.08},{"b":"L2l","k":-1.25,"E":-4.44},{"b":"L2l","k":-1,"E":-2.53},{"b":"L2l","k":-0.75,"E":-0.61},{"b":"L2l","k":-0.67,"E":-0.02},
{"b":"L2r","k":0.67,"E":0.02},{"b":"L2r","k":0.75,"E":-0.57},{"b":"L2r","k":1,"E":-2.47},{"b":"L2r","k":1.25,"E":-4.38},{"b":"L2r","k":1.5,"E":-6.0},{"b":"L2r","k":1.75,"E":-7.08},{"b":"L2r","k":1.97,"E":-7.45},
{"b":"J1p","k":-2.01,"E":4.28},{"b":"J1p","k":-1.75,"E":3.96},{"b":"J1p","k":-1.5,"E":3.11},{"b":"J1p","k":-1.25,"E":2.24},{"b":"J1p","k":-1.15,"E":2.14},{"b":"J1p","k":-1,"E":2.47},{"b":"J1p","k":-0.75,"E":3.81},{"b":"J1p","k":-0.5,"E":5.24},{"b":"J1p","k":-0.25,"E":6.25},{"b":"J1p","k":0,"E":6.61},{"b":"J1p","k":0.25,"E":6.27},{"b":"J1p","k":0.5,"E":5.26},{"b":"J1p","k":0.75,"E":3.85},{"b":"J1p","k":1,"E":2.53},{"b":"J1p","k":1.15,"E":2.2},{"b":"J1p","k":1.25,"E":2.3},{"b":"J1p","k":1.5,"E":3.19},{"b":"J1p","k":1.75,"E":4.04},{"b":"J1p","k":1.97,"E":4.38},
{"b":"J2p","k":-2.01,"E":6.56},{"b":"J2p","k":-1.75,"E":6.22},{"b":"J2p","k":-1.5,"E":5.21},{"b":"J2p","k":-1.25,"E":3.8},{"b":"J2p","k":-1,"E":2.47},{"b":"J2p","k":-0.85,"E":2.15},{"b":"J2p","k":-0.75,"E":2.25},{"b":"J2p","k":-0.5,"E":3.14},{"b":"J2p","k":-0.25,"E":3.99},{"b":"J2p","k":0,"E":4.33},{"b":"J2p","k":0.25,"E":4.01},{"b":"J2p","k":0.5,"E":3.16},{"b":"J2p","k":0.75,"E":2.29},{"b":"J2p","k":0.85,"E":2.19},{"b":"J2p","k":1,"E":2.53},{"b":"J2p","k":1.25,"E":3.86},{"b":"J2p","k":1.5,"E":5.29},{"b":"J2p","k":1.75,"E":6.3},{"b":"J2p","k":1.97,"E":6.66},
{"b":"J1m","k":-2.01,"E":-4.38},{"b":"J1m","k":-1.75,"E":-4.04},{"b":"J1m","k":-1.5,"E":-3.19},{"b":"J1m","k":-1.25,"E":-2.3},{"b":"J1m","k":-1.15,"E":-2.2},{"b":"J1m","k":-1,"E":-2.53},{"b":"J1m","k":-0.75,"E":-3.85},{"b":"J1m","k":-0.5,"E":-5.26},{"b":"J1m","k":-0.25,"E":-6.27},{"b":"J1m","k":0,"E":-6.61},{"b":"J1m","k":0.25,"E":-6.25},{"b":"J1m","k":0.5,"E":-5.24},{"b":"J1m","k":0.75,"E":-3.81},{"b":"J1m","k":1,"E":-2.47},{"b":"J1m","k":1.15,"E":-2.14},{"b":"J1m","k":1.25,"E":-2.24},{"b":"J1m","k":1.5,"E":-3.11},{"b":"J1m","k":1.75,"E":-3.96},{"b":"J1m","k":1.97,"E":-4.28},
{"b":"J2m","k":-2.01,"E":-6.66},{"b":"J2m","k":-1.75,"E":-6.3},{"b":"J2m","k":-1.5,"E":-5.29},{"b":"J2m","k":-1.25,"E":-3.86},{"b":"J2m","k":-1,"E":-2.53},{"b":"J2m","k":-0.85,"E":-2.19},{"b":"J2m","k":-0.75,"E":-2.29},{"b":"J2m","k":-0.5,"E":-3.16},{"b":"J2m","k":-0.25,"E":-4.01},{"b":"J2m","k":0,"E":-4.33},{"b":"J2m","k":0.25,"E":-3.99},{"b":"J2m","k":0.5,"E":-3.14},{"b":"J2m","k":0.75,"E":-2.25},{"b":"J2m","k":0.85,"E":-2.15},{"b":"J2m","k":1,"E":-2.47},{"b":"J2m","k":1.25,"E":-3.8},{"b":"J2m","k":1.5,"E":-5.21},{"b":"J2m","k":1.75,"E":-6.22},{"b":"J2m","k":1.97,"E":-6.56}
]},"mark":{"type":"line","color":"#12121a","strokeWidth":2.3,"interpolate":"monotone"},"encoding":{"detail":{"field":"b"}}},
{"data":{"values":[{"k":-2.93,"E":7.43,"label":"(c)"}]},"mark":{"type":"text","font":"Liberation Sans","fontSize":28,"color":"#3a3a3a","align":"left","baseline":"middle"},"encoding":{"text":{"field":"label"}}},
{"data":{"values":[{"k":-2.546,"E":-2.79,"label":"W - W"}]},"mark":{"type":"text","font":"Liberation Sans","fontStyle":"italic","fontSize":22,"color":"#3a3a3a","align":"left","baseline":"middle","angle":270},"encoding":{"text":{"field":"label"}}},
{"data":{"values":[{"k":-2.47,"E":-0.57,"label":"F"}]},"mark":{"type":"text","font":"Liberation Sans","fontSize":14,"color":"#3a3a3a","align":"left","baseline":"middle","angle":270},"encoding":{"text":{"field":"label"}}},
{"data":{"values":[{"k":-2.546,"E":0,"label":"[eV]"}]},"mark":{"type":"text","font":"Liberation Sans","fontSize":25,"color":"#3a3a3a","align":"left","baseline":"middle","angle":270},"encoding":{"text":{"field":"label"}}},
{"data":{"values":[{"k":-0.8,"E":-1.27,"label":"-k"},{"k":0.6,"E":-1.27,"label":"k"}]},"mark":{"type":"text","font":"Liberation Sans","fontStyle":"italic","fontSize":23,"color":"#3a3a3a","align":"left","baseline":"middle"},"encoding":{"text":{"field":"label"}}},
{"data":{"values":[{"k":-0.55,"E":-1.6,"label":"F"},{"k":0.73,"E":-1.6,"label":"F"}]},"mark":{"type":"text","font":"Liberation Sans","fontStyle":"italic","fontSize":15,"color":"#3a3a3a","align":"left","baseline":"middle"},"encoding":{"text":{"field":"label"}}},
{"data":{"values":[{"k":0.03,"E":-9.2,"label":"k"}]},"mark":{"type":"text","font":"Liberation Sans","fontSize":23,"color":"#3a3a3a","baseline":"middle"},"encoding":{"text":{"field":"label"}}},
{"data":{"values":[{"k":0.14,"E":-9.55,"label":"x"}]},"mark":{"type":"text","font":"Liberation Sans","fontStyle":"italic","fontSize":15,"color":"#3a3a3a","baseline":"middle"},"encoding":{"text":{"field":"label"}}}
]}
]}
